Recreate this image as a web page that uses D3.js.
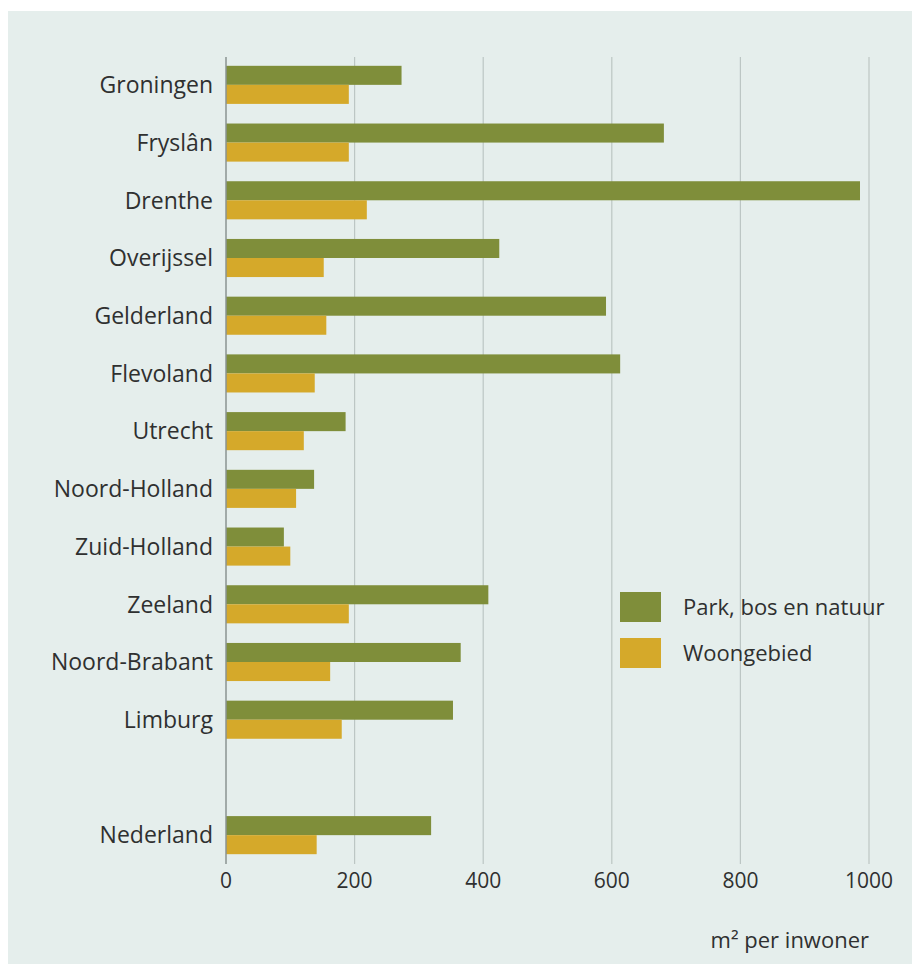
<!DOCTYPE html>
<html>
<head>
<meta charset="utf-8">
<script src="https://cdn.jsdelivr.net/npm/d3@7"></script>
<style>
  body { margin: 0; background: #fff; }
  svg text { font-family: "Open Sans", "Noto Sans", sans-serif; fill: #2f3030; }
</style>
</head>
<body>
<svg id="chart" width="912" height="964"></svg>
<script>
// provinces (empty slot before Nederland gives the gap)
const regions = ["Groningen", "Fryslân", "Drenthe", "Overijssel", "Gelderland", "Flevoland",
  "Utrecht", "Noord-Holland", "Zuid-Holland", "Zeeland", "Noord-Brabant", "Limburg", "", "Nederland"];
const parkBosNatuur = [273, 681, 986, 425, 591, 613, 186, 137, 90, 408, 365, 353, null, 319];
const woongebied = [191, 191, 219, 152, 156, 138, 121, 109, 100, 191, 162, 180, null, 141];
const seriesNames = ["Park, bos en natuur", "Woongebied"];
const xTicks = [0, 200, 400, 600, 800, 1000];
const axisTitle = "m² per inwoner";

const colors = ["#7f8e3a", "#d5a92a"];

const svg = d3.select("#chart");

// panel background
svg.append("rect")
  .attr("x", 8).attr("y", 11)
  .attr("width", 904).attr("height", 953)
  .attr("fill", "#e5eeec");

const x = d3.scaleLinear().domain([0, 1000]).range([226, 869]);

const y = d3.scaleBand()
  .domain(d3.range(regions.length))
  .range([56, 864])
  .paddingInner(0.34)
  .paddingOuter(0.17);

const sub = d3.scaleBand()
  .domain([0, 1])
  .range([0, y.bandwidth()]);

// gridlines
svg.append("g")
  .selectAll("line")
  .data(xTicks.slice(1))
  .join("line")
  .attr("x1", (d) => x(d)).attr("x2", (d) => x(d))
  .attr("y1", 57).attr("y2", 864)
  .attr("stroke", "#bcc6c4")
  .attr("stroke-width", 1.2);

// bars
const rows = regions.map((r, i) => ({ region: r, i, vals: [parkBosNatuur[i], woongebied[i]] }))
  .filter((d) => d.region !== "");

const groups = svg.append("g")
  .selectAll("g")
  .data(rows)
  .join("g")
  .attr("transform", (d) => `translate(0,${y(d.i)})`);

groups.selectAll("rect")
  .data((d) => d.vals.map((v, k) => ({ v, k })))
  .join("rect")
  .attr("x", x(0))
  .attr("y", (d) => sub(d.k))
  .attr("width", (d) => x(d.v) - x(0))
  .attr("height", sub.bandwidth())
  .attr("fill", (d) => colors[d.k]);

// category labels
groups.append("text")
  .attr("x", 213)
  .attr("y", y.bandwidth() / 2)
  .attr("dy", "0.36em")
  .attr("text-anchor", "end")
  .attr("font-size", 23)
  .text((d) => d.region);

// y axis line
svg.append("line")
  .attr("x1", x(0)).attr("x2", x(0))
  .attr("y1", 57).attr("y2", 864)
  .attr("stroke", "#8a9392")
  .attr("stroke-width", 1.5);

// x tick labels
svg.append("g")
  .selectAll("text")
  .data(xTicks)
  .join("text")
  .attr("x", (d) => x(d))
  .attr("y", 888)
  .attr("text-anchor", "middle")
  .attr("font-size", 21)
  .text((d) => d);

svg.append("text")
  .attr("x", 869)
  .attr("y", 948)
  .attr("text-anchor", "end")
  .attr("font-size", 22)
  .text(axisTitle);

// legend
const legend = svg.append("g")
  .selectAll("g")
  .data(seriesNames)
  .join("g")
  .attr("transform", (d, i) => `translate(620,${592 + i * 46})`);

legend.append("rect")
  .attr("width", 41).attr("height", 30)
  .attr("fill", (d, i) => colors[i]);

legend.append("text")
  .attr("x", 63)
  .attr("y", 15)
  .attr("dy", "0.36em")
  .attr("font-size", 22)
  .text((d) => d);
</script>
</body>
</html>
